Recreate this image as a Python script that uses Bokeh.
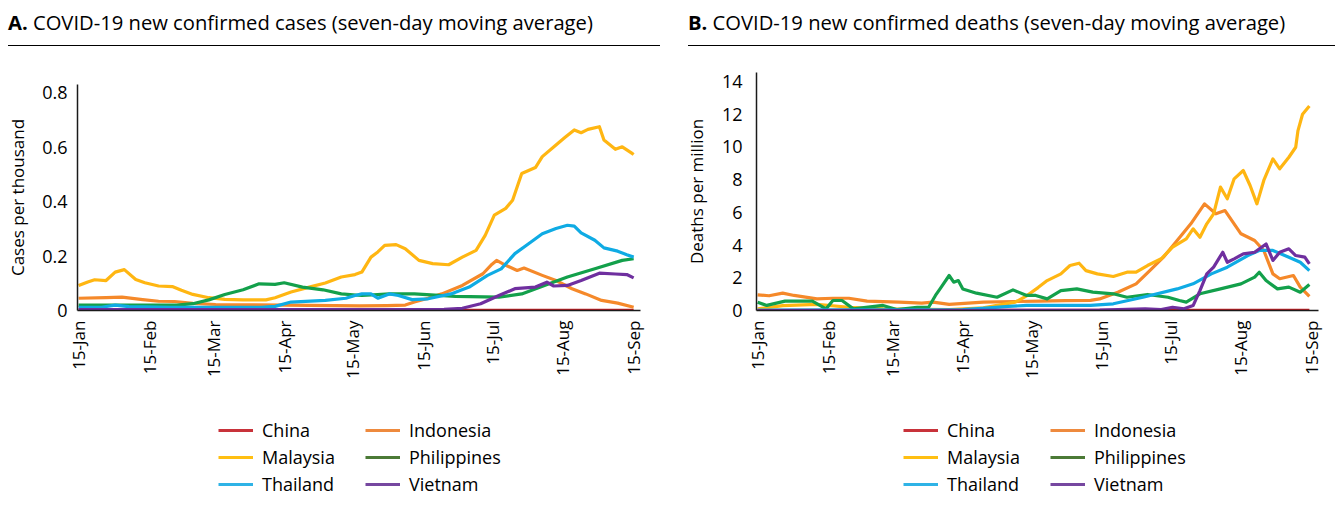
import math
from bokeh.plotting import figure
from bokeh.models import FixedTicker, Legend, LegendItem, Range1d, Div
from bokeh.layouts import row, column
from bokeh.embed import file_html
from bokeh.resources import INLINE

FONT = "Open Sans"

countries = ["China", "Indonesia", "Malaysia", "Philippines", "Thailand", "Vietnam"]
line_colors = ["#c41e24", "#f5892a", "#ffb612", "#13a04b", "#0fabe4", "#6f2f9f"]
legend_colors = ["#c8323a", "#ee8a3e", "#ffbf12", "#4b7a36", "#2fb3e6", "#7647a0"]

# x positions are days after 15 January 2021
tick_days = [0, 31, 59, 90, 120, 151, 181, 212, 243]
tick_labels = ["15-Jan", "15-Feb", "15-Mar", "15-Apr", "15-May", "15-Jun", "15-Jul", "15-Aug", "15-Sep"]

# ---------- Panel A: new confirmed cases per thousand ----------
cases_china_day = [0, 60, 120, 180, 243]
cases_china = [0.001, 0.001, 0.001, 0.001, 0.001]

cases_indonesia_day = [0, 12, 19, 28, 35, 42, 50, 60, 71, 90, 101, 123, 135, 143, 147, 153, 159, 168, 177,
                       181, 183, 187, 192, 195, 203, 209, 216, 222, 229, 236, 243]
cases_indonesia = [0.045, 0.047, 0.049, 0.040, 0.034, 0.033, 0.026, 0.022, 0.021, 0.020, 0.019, 0.017, 0.018,
                   0.020, 0.031, 0.045, 0.061, 0.092, 0.135, 0.170, 0.184, 0.166, 0.147, 0.156, 0.129, 0.110,
                   0.080, 0.061, 0.037, 0.027, 0.012]

cases_malaysia_day = [0, 4, 7, 12, 16, 20, 25, 29, 35, 41, 45, 50, 57, 64, 72, 82, 86, 93, 101, 108, 115, 121,
                      124, 128, 131, 134, 139, 143, 149, 155, 162, 168, 174, 178, 182, 187, 190, 194, 200, 203,
                      209, 213, 217, 220, 223, 228, 230, 235, 238, 242, 243]
cases_malaysia = [0.092, 0.105, 0.113, 0.110, 0.141, 0.150, 0.114, 0.102, 0.090, 0.088, 0.074, 0.059, 0.047,
                  0.041, 0.039, 0.039, 0.047, 0.068, 0.086, 0.101, 0.123, 0.132, 0.141, 0.196, 0.215, 0.239,
                  0.242, 0.227, 0.184, 0.172, 0.168, 0.196, 0.221, 0.276, 0.350, 0.375, 0.405, 0.503, 0.525,
                  0.565, 0.608, 0.636, 0.663, 0.653, 0.665, 0.675, 0.626, 0.592, 0.601, 0.579, 0.573]

cases_philippines_day = [0, 21, 43, 50, 57, 64, 72, 79, 86, 90, 98, 107, 115, 124, 136, 147, 165, 184, 194,
                         206, 214, 226, 238, 243]
cases_philippines = [0.020, 0.020, 0.020, 0.025, 0.039, 0.059, 0.076, 0.098, 0.096, 0.102, 0.086, 0.076, 0.061,
                     0.055, 0.061, 0.061, 0.052, 0.049, 0.061, 0.098, 0.123, 0.153, 0.184, 0.190]

cases_thailand_day = [0, 10, 16, 22, 40, 60, 80, 86, 93, 108, 117, 121, 124, 128, 131, 136, 140, 146, 153, 163,
                      171, 179, 185, 191, 197, 203, 209, 214, 217, 220, 226, 230, 236, 240, 243]
cases_thailand = [0.012, 0.012, 0.020, 0.014, 0.012, 0.012, 0.012, 0.015, 0.031, 0.037, 0.045, 0.055, 0.061,
                  0.061, 0.045, 0.061, 0.055, 0.040, 0.043, 0.061, 0.086, 0.129, 0.153, 0.209, 0.245, 0.282,
                  0.301, 0.313, 0.310, 0.285, 0.258, 0.230, 0.218, 0.205, 0.196]

cases_vietnam_day = [0, 150, 160, 168, 176, 184, 191, 200, 205, 208, 214, 220, 228, 235, 240, 243]
cases_vietnam = [0.003, 0.003, 0.004, 0.008, 0.025, 0.055, 0.080, 0.086, 0.104, 0.090, 0.092, 0.110, 0.137,
                 0.134, 0.132, 0.120]

# ---------- Panel B: new confirmed deaths per million ----------
deaths_china_day = [0, 60, 120, 180, 242]
deaths_china = [0.01, 0.01, 0.01, 0.01, 0.01]

deaths_indonesia_day = [0, 5, 11, 16, 26, 33, 40, 48, 62, 72, 77, 84, 99, 113, 124, 135, 146, 150, 158, 166,
                        172, 178, 184, 190, 196, 201, 205, 212, 218, 222, 226, 229, 235, 238, 242]
deaths_indonesia = [0.96, 0.90, 1.06, 0.92, 0.71, 0.75, 0.75, 0.57, 0.51, 0.45, 0.51, 0.37, 0.51, 0.55, 0.57,
                    0.60, 0.62, 0.71, 1.12, 1.63, 2.44, 3.26, 4.28, 5.30, 6.52, 5.91, 6.11, 4.69, 4.28, 3.67,
                    2.24, 1.94, 2.14, 1.43, 0.86]

deaths_malaysia_day = [0, 11, 26, 40, 55, 84, 99, 113, 118, 123, 127, 133, 137, 141, 144, 149, 156, 162, 166,
                       171, 177, 182, 188, 191, 194, 197, 200, 203, 206, 209, 213, 216, 219, 222, 226, 229, 233,
                       236, 237, 239, 242]
deaths_malaysia = [0.10, 0.30, 0.37, 0.20, 0.10, 0.06, 0.16, 0.51, 0.90, 1.40, 1.83, 2.24, 2.75, 2.89, 2.44,
                   2.24, 2.08, 2.34, 2.34, 2.75, 3.16, 3.87, 4.38, 4.99, 4.48, 5.30, 5.91, 7.54, 6.83, 8.05,
                   8.56, 7.64, 6.52, 7.95, 9.27, 8.66, 9.37, 9.98, 11.0, 12.0, 12.5]

deaths_philippines_day = [0, 4, 12, 24, 30, 33, 37, 42, 55, 61, 70, 75, 78, 80, 84, 86, 88, 90, 96, 105, 112,
                          118, 122, 127, 133, 140, 147, 156, 162, 171, 180, 185, 188, 194, 203, 212, 218, 220,
                          223, 228, 233, 238, 242]
deaths_philippines = [0.51, 0.31, 0.57, 0.57, 0.10, 0.61, 0.61, 0.10, 0.31, 0.06, 0.20, 0.20, 0.92, 1.32, 2.14,
                      1.73, 1.83, 1.32, 1.06, 0.81, 1.26, 0.92, 0.92, 0.71, 1.22, 1.32, 1.12, 1.02, 0.81, 0.98,
                      0.81, 0.61, 0.51, 1.02, 1.32, 1.63, 2.04, 2.34, 1.83, 1.32, 1.43, 1.12, 1.59]

deaths_thailand_day = [0, 90, 100, 110, 118, 146, 156, 169, 184, 191, 199, 206, 215, 220, 226, 233, 238, 242]
deaths_thailand = [0.02, 0.05, 0.15, 0.25, 0.31, 0.31, 0.41, 0.81, 1.32, 1.63, 2.24, 2.65, 3.36, 3.67, 3.67,
                   3.26, 2.95, 2.44]

deaths_vietnam_day = [0, 150, 170, 177, 182, 187, 191, 194, 197, 200, 204, 206, 209, 213, 218, 223, 226, 229,
                      233, 236, 240, 242]
deaths_vietnam = [0.0, 0.02, 0.10, 0.05, 0.20, 0.10, 0.30, 1.22, 2.24, 2.65, 3.56, 2.95, 3.16, 3.46, 3.56,
                  4.07, 3.06, 3.56, 3.77, 3.36, 3.26, 2.85]

cases_series = [
    (cases_china_day, cases_china), (cases_indonesia_day, cases_indonesia),
    (cases_malaysia_day, cases_malaysia), (cases_philippines_day, cases_philippines),
    (cases_thailand_day, cases_thailand), (cases_vietnam_day, cases_vietnam),
]
deaths_series = [
    (deaths_china_day, deaths_china), (deaths_indonesia_day, deaths_indonesia),
    (deaths_malaysia_day, deaths_malaysia), (deaths_philippines_day, deaths_philippines),
    (deaths_thailand_day, deaths_thailand), (deaths_vietnam_day, deaths_vietnam),
]

cases_yticks = [0, 0.2, 0.4, 0.6, 0.8]
deaths_yticks = [0, 2, 4, 6, 8, 10, 12, 14]

TITLE_H = 54
LEG_H = 98
NAN = float("nan")


def title_div(width, letter, text, left, rule_w):
    html = ('<div style="margin:0 0 0 %dpx;width:%dpx;height:46px;box-sizing:border-box;'
            'border-bottom:1.5px solid #000;padding-top:8px;font-family:\'Open Sans\';'
            'font-size:20.2px;line-height:28px;color:#000;white-space:nowrap;">'
            '<b>%s</b> %s</div>') % (left, rule_w, letter, text)
    return Div(text=html, width=width, height=TITLE_H, styles={"margin": "0", "padding": "0"})


def make_panel(ylabel, series, ymax, yticks, b_left, b_top, fw, fh, b_right, b_bottom,
               tick_std, ylabel_std):
    p = figure(frame_width=fw, frame_height=fh,
               min_border_left=b_left, min_border_right=b_right,
               min_border_top=b_top, min_border_bottom=b_bottom,
               x_range=Range1d(-0.5, 246), y_range=Range1d(0, ymax),
               output_backend="svg", toolbar_location=None)
    p.grid.visible = False
    p.outline_line_color = None
    p.background_fill_color = "white"
    p.border_fill_color = "white"

    for (xd, yv), col in zip(series, line_colors):
        p.line(xd, yv, line_color=col, line_width=3.2, line_join="round")

    for ax in (p.xaxis, p.yaxis):
        ax.axis_line_color = "#1a1a1a"
        ax.axis_line_width = 1.5
        ax.major_tick_line_color = None
        ax.minor_tick_line_color = None
        ax.major_tick_out = 0
        ax.major_tick_in = 0
        ax.minor_tick_out = 0
        ax.major_label_text_font = FONT
        ax.major_label_text_font_size = "17px"
        ax.major_label_text_color = "black"

    p.xaxis.ticker = FixedTicker(ticks=tick_days)
    p.xaxis.major_label_overrides = {d: t for d, t in zip(tick_days, tick_labels)}
    p.xaxis.major_label_orientation = math.pi / 2
    p.xaxis.major_label_standoff = 10

    p.yaxis.ticker = FixedTicker(ticks=yticks)
    p.yaxis.major_label_overrides = {0: "0"}
    p.yaxis.major_label_standoff = tick_std
    p.yaxis.major_label_text_font_size = "18px"
    p.yaxis.axis_label = ylabel
    p.yaxis.axis_label_text_font = FONT
    p.yaxis.axis_label_text_font_size = "17px"
    p.yaxis.axis_label_text_font_style = "normal"
    p.yaxis.axis_label_text_color = "black"
    p.yaxis.axis_label_standoff = ylabel_std
    return p


def legend_fig(b_left, fw, b_right, xoff):
    lf = figure(frame_width=fw, frame_height=LEG_H,
                min_border_left=b_left, min_border_right=b_right,
                min_border_top=0, min_border_bottom=0,
                x_axis_location=None, y_axis_location=None,
                x_range=Range1d(0, 1), y_range=Range1d(0, 1),
                output_backend="svg", toolbar_location=None)
    lf.grid.visible = False
    lf.outline_line_color = None
    items = []
    for name, lc in zip(countries, legend_colors):
        # legend-only line (no visible data); keeps the legend's own swatch colour
        r = lf.line(x=[NAN, NAN], y=[NAN, NAN], line_color=lc, line_width=3.2)
        items.append(LegendItem(label=name, renderers=[r]))
    leg = Legend(items=items, location=(xoff, 7), orientation="horizontal", ncols=2,
                 label_text_font=FONT, label_text_font_size="18px", label_text_color="black",
                 glyph_width=35, glyph_height=20, label_height=20, label_width=100,
                 label_standoff=9, spacing=3, padding=0, margin=0,
                 border_line_color=None, background_fill_alpha=0)
    lf.add_layout(leg, "center")
    return lf


tA = title_div(672, "A.", "COVID-19 new confirmed cases (seven-day moving average)", 8, 652)
pA = make_panel("Cases per thousand", cases_series, 0.83, cases_yticks, b_left=77, b_top=30, fw=563,
                fh=226, b_right=32, b_bottom=95, tick_std=10, ylabel_std=10)
lA = legend_fig(77, 563, 32, 141)

tB = title_div(663, "B.", "COVID-19 new confirmed deaths (seven-day moving average)", 16, 647)
pB = make_panel("Deaths per million", deaths_series, 14.55, deaths_yticks, b_left=84, b_top=18, fw=562,
                fh=238, b_right=15, b_bottom=95, tick_std=14, ylabel_std=11)
lB = legend_fig(84, 562, 15, 147)

layout = row(column(tA, pA, lA), column(tB, pB, lB))
open("out.html", "w").write(file_html(layout, INLINE))
